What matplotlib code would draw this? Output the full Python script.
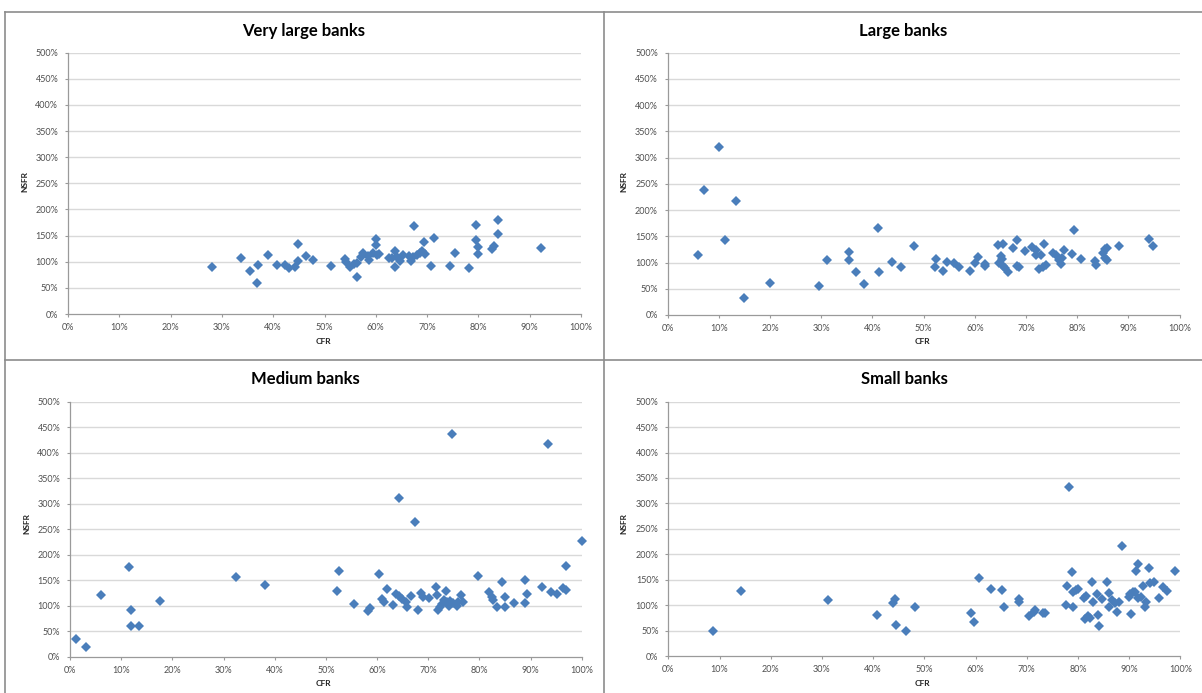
import matplotlib
matplotlib.use("Agg")
import matplotlib.pyplot as plt
from matplotlib.lines import Line2D
from matplotlib.ticker import PercentFormatter, MultipleLocator

plt.rcParams['font.family'] = ['Lato', 'DejaVu Sans']

# CFR (x, %) and NSFR (y, %)
vlarge_cfr = [28.1, 33.7, 35.4, 37.1, 36.8, 39.0, 40.7, 42.3, 43.1, 44.2, 44.9, 44.8, 46.3,
              47.7, 51.3, 53.9, 54.1, 54.9, 55.7, 56.3, 56.4, 57.2, 57.6, 58.7, 58.5, 59.5,
              60.1, 60.1, 60.2, 60.6, 62.5, 63.2, 63.7, 63.8, 64.1, 64.7, 65.3, 66.4, 66.9,
              67.2, 67.5, 68.1, 68.7, 69.0, 69.3, 69.6, 70.7, 71.3, 74.5, 75.5, 78.1, 79.5,
              79.5, 80.0, 80.0, 82.6, 83.0, 83.9, 83.9, 92.2]
vlarge_nsfr = [90.6, 107.8, 82.9, 93.8, 60.0, 112.9, 93.8, 93.8, 87.4, 90.6, 101.4, 134.6, 111.6,
               102.7, 92.5, 104.6, 99.5, 89.3, 95.0, 98.2, 71.4, 109.7, 116.0, 103.3, 111.0, 116.0,
               144.0, 132.0, 112.9, 114.0, 107.8, 106.5, 121.0, 90.6, 109.7, 101.4, 112.9, 111.0, 102.0,
               109.7, 169.0, 112.9, 116.0, 120.5, 137.0, 114.8, 91.8, 146.0, 91.8, 116.0, 88.0, 171.0,
               141.6, 128.8, 114.0, 125.0, 130.0, 180.0, 154.0, 125.6]

large_cfr = [5.9, 7.2, 10.0, 11.3, 13.3, 14.9, 20.0, 29.5, 31.1, 35.4, 35.4, 36.7, 38.4, 41.0,
             41.3, 43.8, 45.5, 48.1, 52.2, 52.5, 53.7, 54.5, 55.9, 56.9, 59.1, 60.1, 60.6, 62.0,
             62.0, 64.5, 65.5, 65.1, 64.8, 65.3, 65.5, 65.9, 66.5, 67.5, 68.3, 68.3, 68.7, 69.8,
             71.1, 71.9, 72.0, 72.6, 73.0, 73.4, 73.8, 73.5, 75.3, 75.8, 76.5, 76.8, 77.1, 77.5,
             79.0, 79.3, 80.7, 83.5, 83.7, 85.0, 85.5, 85.4, 85.8, 85.9, 88.2, 94.1, 94.8]
large_nsfr = [114.4, 237.6, 320.2, 143.0, 218.0, 32.4, 60.4, 55.9, 105.5, 119.4, 104.2, 81.3, 59.7, 166.5,
              82.0, 101.7, 91.5, 131.5, 92.1, 107.4, 83.9, 101.7, 99.7, 92.1, 84.5, 98.5, 111.2, 94.0,
              97.8, 133.4, 134.7, 112.5, 98.5, 106.0, 94.0, 90.2, 82.6, 127.0, 143.0, 94.0, 92.1, 122.6,
              130.2, 123.9, 114.4, 87.0, 114.4, 92.1, 95.3, 136.0, 118.8, 114.4, 104.8, 96.6, 108.0, 123.9,
              115.6, 162.0, 106.7, 102.9, 95.3, 117.5, 125.2, 108.0, 127.0, 104.8, 131.5, 144.9, 132.1]

medium_cfr = [1.2, 3.1, 6.1, 11.6, 12.0, 11.9, 13.4, 17.5, 32.5, 38.2, 52.2, 52.6, 55.5, 58.2,
              58.6, 60.4, 61.0, 61.3, 62.0, 63.1, 63.7, 64.2, 64.2, 64.9, 65.6, 65.8, 66.6, 67.5,
              68.1, 68.6, 69.0, 70.1, 71.6, 71.8, 71.9, 72.3, 72.7, 73.1, 73.5, 73.7, 74.0, 74.3,
              74.6, 74.9, 75.7, 75.9, 76.4, 76.8, 79.8, 81.8, 82.4, 82.6, 83.4, 84.4, 85.0, 85.0,
              86.7, 88.9, 89.0, 89.3, 92.3, 93.4, 94.0, 95.2, 96.4, 96.9, 97.0, 100.0]
medium_nsfr = [34.0, 19.0, 120.3, 176.5, 92.2, 60.1, 60.1, 108.5, 155.6, 140.5, 128.8, 168.0, 102.6, 90.2,
               94.8, 162.0, 113.0, 106.5, 132.0, 102.0, 122.2, 311.8, 119.0, 113.0, 107.8, 98.0, 119.0, 263.4,
               91.5, 125.5, 117.6, 114.4, 137.3, 121.0, 91.5, 98.0, 102.6, 111.0, 129.4, 107.8, 99.3, 109.2,
               436.6, 104.6, 99.3, 106.5, 121.0, 107.8, 158.8, 126.0, 117.6, 111.0, 98.0, 145.8, 117.6, 98.0,
               104.6, 105.9, 150.3, 122.2, 137.3, 417.0, 126.0, 122.2, 134.0, 130.7, 178.4, 226.8]

small_cfr = [8.8, 14.2, 31.2, 40.8, 43.9, 44.2, 44.4, 46.4, 48.2, 59.2, 59.7, 60.7, 63.0, 65.2,
             65.6, 68.4, 68.4, 70.4, 71.4, 71.6, 73.2, 73.6, 77.6, 77.9, 78.2, 78.9, 79.1, 79.0,
             79.6, 80.0, 81.2, 81.5, 81.3, 82.0, 82.3, 82.8, 82.9, 83.7, 83.9, 84.1, 84.6, 85.6,
             86.0, 86.0, 86.7, 87.3, 87.6, 88.1, 88.6, 89.9, 90.1, 90.3, 90.7, 91.1, 91.4, 91.8,
             91.8, 92.4, 92.7, 93.0, 93.3, 93.8, 94.0, 94.8, 95.9, 96.6, 97.3, 99.0]
small_nsfr = [49.1, 127.8, 109.4, 81.3, 104.8, 111.4, 61.6, 49.1, 96.3, 83.9, 67.5, 154.0, 132.4, 129.8,
              96.3, 111.4, 106.2, 78.6, 86.5, 90.4, 85.2, 85.2, 99.6, 137.6, 332.9, 165.1, 96.3, 125.2,
              129.8, 131.7, 114.7, 118.6, 72.7, 79.3, 75.4, 144.8, 105.5, 121.2, 80.6, 59.0, 112.1, 144.8,
              124.5, 97.0, 110.1, 103.5, 85.8, 105.5, 216.9, 115.3, 122.5, 82.6, 125.2, 126.5, 167.1, 180.9,
              113.4, 116.6, 138.3, 97.0, 106.2, 173.0, 142.9, 144.8, 113.4, 135.0, 128.4, 167.1]

titles = ["Very large banks", "Large banks", "Medium banks", "Small banks"]
series = [(vlarge_cfr, vlarge_nsfr), (large_cfr, large_nsfr),
          (medium_cfr, medium_nsfr), (small_cfr, small_nsfr)]

W, H = 1202, 693
fig = plt.figure(figsize=(W / 100, H / 100), dpi=100)
fig.patch.set_facecolor('white')

# axes boxes in pixels: x0, x1, y_top(500%), y_bottom(0%)
boxes = [(68, 581, 52.7, 314), (667.6, 1179.7, 52.7, 315),
         (70, 581.7, 401.7, 656.7), (668.3, 1180.4, 401.7, 656)]
# title centre (x, y) and CFR / NSFR label positions in pixels
title_pos = [(304, 31), (903, 31), (305, 379), (904, 379)]
cfr_pos = [(323, 341), (922, 341), (323, 683), (922, 683)]
nsfr_pos = [(25, 181), (624, 181), (27, 524), (624, 524)]

axis_col = '#9A9A9A'
for i in range(4):
    x0, x1, yt, yb = boxes[i]
    ax = fig.add_axes([x0 / W, 1 - yb / H, (x1 - x0) / W, (yb - yt) / H])
    xs, ys = series[i]
    ax.plot(xs, ys, linestyle='none', marker='D', ms=4.6, color='#4A7EBB',
            markeredgewidth=0, zorder=3, clip_on=False)
    ax.set_xlim(0, 100)
    ax.set_ylim(0, 500)
    ax.xaxis.set_major_locator(MultipleLocator(10))
    ax.yaxis.set_major_locator(MultipleLocator(50))
    ax.xaxis.set_major_formatter(PercentFormatter(decimals=0))
    ax.yaxis.set_major_formatter(PercentFormatter(decimals=0))
    for yv in range(50, 501, 50):
        ax.axhline(yv, color='#D9D9D9', lw=1.0, zorder=1)
    for s in ['top', 'right']:
        ax.spines[s].set_visible(False)
    for s in ['left', 'bottom']:
        ax.spines[s].set_color(axis_col)
        ax.spines[s].set_linewidth(0.9)
    ax.tick_params(axis='x', direction='out', length=2.5, width=0.8, color=axis_col,
                   labelsize=6.5, labelcolor='#505050', pad=4)
    ax.tick_params(axis='y', direction='out', length=2.5, width=0.8, color=axis_col,
                   labelsize=6.5, labelcolor='#505050', pad=4.5)

    tx, ty = title_pos[i]
    fig.text(tx / W, 1 - ty / H, titles[i], ha='center', va='center',
             fontsize=12, fontweight='bold', color='black')
    cx, cy = cfr_pos[i]
    fig.text(cx / W, 1 - cy / H, "CFR", ha='center', va='center',
             fontsize=6, fontweight='bold', color='#222222')
    nx, ny = nsfr_pos[i]
    fig.text(nx / W, 1 - ny / H, "NSFR", ha='center', va='center', rotation=90,
             fontsize=6, fontweight='bold', color='#222222')

# panel frames
frame_col = '#8C8C8C'
frame_lines = [((5, 1202), (12, 12)), ((5, 5), (12, 693)),
               ((5, 1202), (360, 360)), ((604, 604), (12, 693))]
for (xa, xb), (ya, yb) in frame_lines:
    fig.add_artist(Line2D([xa / W, xb / W], [1 - ya / H, 1 - yb / H],
                          transform=fig.transFigure, color=frame_col, lw=1.2))

fig.savefig("out.png", dpi=100)
